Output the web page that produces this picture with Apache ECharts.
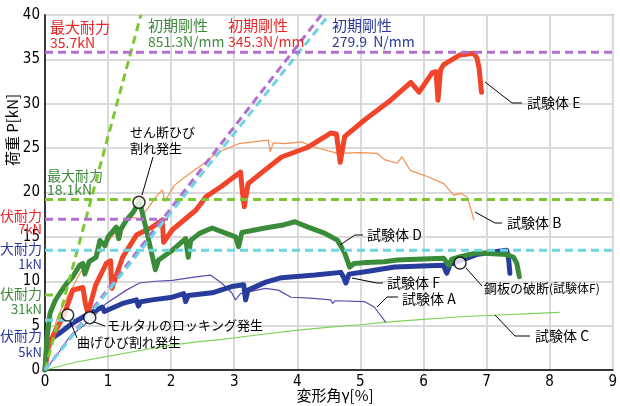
<!DOCTYPE html>
<html><head><meta charset="utf-8">
<script src="https://cdn.jsdelivr.net/npm/echarts@6/dist/echarts.min.js"></script>
<style>html,body{margin:0;padding:0;background:#fff}#c{width:620px;height:406px}</style>
</head><body><div id="c"></div>
<script>
// ---- axis ticks ----
const xTicks = [0,1,2,3,4,5,6,7,8,9];
const yTicks = [0,5,10,15,20,25,30,35,40];

// ---- 試験体 E ----
const E_x = [0,0.05,0.15,0.3,0.44,0.6,0.64,0.68,0.8,0.97,1.04,1.06,1.23,1.45,1.7,1.86,1.88,2.02,2.39,2.55,2.8,3.1,3.13,3.16,3.22,3.5,3.75,4.17,4.53,4.62,4.65,4.68,4.75,5.07,5.48,5.8,5.93,6.14,6.2,6.23,6.27,6.32,6.58,6.8,6.85,6.88,6.92];
const E_y = [0,2.5,4.2,6.2,9.0,9.3,7.5,6.4,9.5,12.0,12.3,9.2,12.7,15.2,16.1,16.9,14.4,15.8,18.0,19.5,20.7,22.3,20.0,18.4,21.0,22.6,24.0,25.1,26.7,26.6,25.0,23.4,26.3,28.2,30.4,32.4,31.3,33.5,33.6,30.4,33.8,34.4,35.5,35.7,35.1,34.1,31.3];
// ---- 試験体 B ----
const B_x = [0,0.1,0.2,0.35,0.45,0.6,0.7,0.92,1.0,1.23,1.4,1.5,1.65,1.76,1.86,1.9,1.95,2.05,2.23,2.6,2.7,3.07,3.3,3.54,3.57,3.62,3.8,4.06,4.28,4.64,5.0,5.27,5.38,5.58,5.66,5.79,6.06,6.32,6.48,6.6,6.69,6.74,6.8];
const B_y = [0,3.5,6.0,8.2,9.5,11.5,12.3,13.5,14.5,16.5,17.2,17.0,18.4,19.5,20.3,19.0,19.6,20.8,21.8,23.7,24.4,25.5,25.7,25.9,24.6,25.6,25.5,25.7,25.1,24.4,24.5,24.4,23.7,23.3,24.0,22.5,21.8,21.0,19.7,19.9,19.5,18.4,16.9];
// ---- 試験体 D ----
const D_x = [0,0.03,0.08,0.16,0.24,0.35,0.44,0.55,0.6,0.63,0.7,0.81,0.87,0.95,1.0,1.13,1.17,1.2,1.28,1.4,1.5,1.6,1.75,1.8,2.02,2.23,2.27,2.31,2.45,2.65,2.8,3.02,3.07,3.12,3.2,3.49,3.75,3.96,4.17,4.44,4.64,4.75,4.83,4.9,5.1,5.38,5.58,6.0,6.32,6.4,6.45,6.55,6.84,7.1,7.32,7.43,7.48,7.52];
const D_y = [0,3.5,6.4,7.8,8.7,9.8,10.5,11.8,12.0,10.8,12.2,12.7,14.6,14.0,15.0,16.1,14.8,15.8,16.8,17.8,19.0,16.0,11.3,12.4,13.5,14.8,12.7,14.6,15.4,16.0,15.6,15.0,13.9,15.5,15.6,16.0,16.3,16.7,16.1,15.4,14.6,13.2,11.6,12.0,12.1,12.2,12.4,12.5,12.6,11.8,12.5,12.7,13.2,13.1,13.0,12.7,12.0,10.5];
// ---- 試験体 F ----
const F_x = [0,0.03,0.1,0.24,0.44,0.71,0.91,0.94,0.97,1.23,1.45,1.48,1.52,1.7,2.02,2.2,2.23,2.27,2.65,2.96,3.15,3.18,3.22,3.5,3.75,4.28,4.69,4.73,4.77,4.82,5.1,5.54,6.32,6.35,6.37,6.42,6.84,7.1,7.32,7.35,7.37];
const F_y = [0,2.6,3.5,4.2,5.3,6.4,7.1,6.6,6.4,7.5,7.9,7.2,7.7,7.9,8.2,8.6,7.7,8.4,8.7,9.4,9.6,7.9,9.0,9.9,10.4,10.7,11.0,10.5,9.8,10.8,11.1,11.6,11.8,11.2,10.9,11.9,13.0,13.3,13.5,12.5,10.9];
// ---- 試験体 A ----
const A_x = [0,0.2,0.39,0.71,0.97,1.29,1.5,1.75,2.02,2.39,2.62,2.8,2.96,3.02,3.1,3.49,3.7,3.9,4.2,4.53,4.56,4.6,5.07,5.22,5.4];
const A_y = [0,1.8,3.7,5.6,7.5,9.0,9.8,10.0,10.1,10.5,10.7,9.8,8.7,7.9,8.6,9.2,9.0,8.2,8.1,7.9,7.5,7.8,7.7,7.1,5.4];
// ---- 試験体 C ----
const C_x = [0,0.5,0.97,1.5,2.0,2.44,2.75,3.2,4.01,4.48,5.0,5.4,6.0,6.58,7.2,7.7,8.15];
const C_y = [0,0.9,1.5,2.2,2.8,3.2,3.4,3.8,4.5,4.8,5.1,5.4,5.7,6.0,6.2,6.35,6.5];

// ---- reference dashed lines ----
const stiffGreen = [[0,0],[1.52,40]];
const stiffPurple = [[0,0],[4.38,40]];
const stiffCyan = [[0,0],[4.5,40]];
const maxE = [[0,35.8],[9,35.8]];
const maxD = [[0,19.2],[9,19.2]];
const yieldE = [[0,17.0],[1.95,17.0]];
const maxF = [[0,13.5],[9,13.5]];
const yieldD = [[0,8.45],[0.2,8.45]];
const yieldF = [[0,5.6],[0.45,5.6]];

// ---- event markers ----
const events = [[0.36,6.2],[0.71,5.9],[1.49,18.9],[6.58,12.06]];

const zip = (xs, ys) => xs.map((x,i)=>[x, ys[i]]);
const JP = '"Noto Sans CJK JP", sans-serif';
const NUM = '"Liberation Sans Narrow","DejaVu Sans Condensed","Liberation Sans",sans-serif';
const RED='#e8262a', GRN='#3d8b3d', BLU='#2b3a98';

function line(name, data, color, width, z){
  return {name, type:'line', data, showSymbol:false, symbol:'none', z,
    lineStyle:{color, width, cap:'round', join:'round'}, silent:true, animation:false};
}
function dash(data, color){
  return {type:'line', data, showSymbol:false, symbol:'none', z:5,
    lineStyle:{color, width:3, type:[8,5]}, silent:true, animation:false};
}
function txt(t, x, y, color, size, align){
  return {type:'text', z:100, style:{text:t, x, y, fill:color, font: size+'px '+JP,
    align: align||'left', textAlign: align||'left', verticalAlign:'middle', textVerticalAlign:'middle'}};
}
function pl(points){
  return {type:'polyline', z:90, shape:{points}, style:{stroke:'#000', lineWidth:1, fill:null}};
}

const chart = echarts.init(document.getElementById('c'), null, {renderer:'canvas'});
chart.setOption({
  animation:false,
  backgroundColor:'#fff',
  grid:{left:45, right:2, top:15, bottom:36, show:true, borderColor:'#000', borderWidth:1.5, backgroundColor:'transparent'},
  xAxis:{type:'value', min:0, max:9, interval:1,
    axisLine:{show:true, lineStyle:{color:'#000', width:1.5}}, axisTick:{show:false},
    axisLabel:{margin:5, fontSize:15, color:'#000', fontFamily:NUM, formatter:v=>xTicks.includes(v)?String(v):''},
    splitLine:{show:true, lineStyle:{color:'#dadada', width:2}}},
  yAxis:{type:'value', min:0, max:40, interval:5,
    axisLine:{show:true, lineStyle:{color:'#000', width:1.5}}, axisTick:{show:false},
    axisLabel:{margin:5, fontSize:15, color:'#000', fontFamily:NUM, formatter:v=>yTicks.includes(v)?String(v):''},
    splitLine:{show:true, lineStyle:{color:'#dadada', width:2}}},
  series:[
    line('試験体C', zip(C_x,C_y), '#7fd35a', 1.2, 2),
    line('試験体A', zip(A_x,A_y), '#5d4bb0', 1.2, 2),
    line('試験体B', zip(B_x,B_y), '#f5904f', 1.2, 2),
    line('試験体F', zip(F_x,F_y), '#283c9c', 5, 3),
    line('試験体E', zip(E_x,E_y), '#f0452a', 5, 3),
    line('試験体D', zip(D_x,D_y), '#3a8c3a', 5, 4),
    dash(stiffGreen, '#7cc832'),
    dash(stiffPurple, '#b36fd0'),
    dash(stiffCyan, '#6fd3e0'),
    dash(maxE, '#b36fd0'),
    dash(maxD, '#7cc832'),
    dash(yieldE, '#b36fd0'),
    dash(maxF, '#6fd3e0'),
    dash(yieldD, '#7cc832'),
    dash(yieldF, '#6fd3e0'),
    {type:'scatter', data:events, symbol:'circle', symbolSize:12, z:20, silent:true,
      itemStyle:{color:'#fff', borderColor:'#000', borderWidth:1.5}}
  ],
  graphic:[
    // axis titles
    {type:'text', z:100, x:12, y:130, rotation:Math.PI/2,
      style:{text:'荷重 P[kN]', fill:'#000', font:'15px '+JP, align:'center', textAlign:'center', verticalAlign:'middle', textVerticalAlign:'middle'}},
    txt('変形角γ[%]', 335, 395, '#000', 15, 'center'),
    // top annotations
    txt('最大耐力', 50, 27, RED, 15), txt('35.7kN', 50, 43, RED, 14),
    txt('初期剛性', 148, 25, GRN, 15), txt('851.3N/mm', 148, 42, GRN, 14),
    txt('初期剛性', 228, 25, RED, 15), txt('345.3N/mm', 228, 42, RED, 14),
    txt('初期剛性', 332, 25, BLU, 15), txt('279.9  N/mm', 332, 42, BLU, 14),
    txt('最大耐力', 47, 176, GRN, 14), txt('18.1kN', 47, 190, GRN, 14),
    // left clipped labels
    txt('伏耐力', 42, 216, RED, 14, 'right'), txt('7kN', 42, 229, RED, 13, 'right'),
    txt('大耐力', 42, 249, BLU, 14, 'right'), txt('1kN', 42, 264, BLU, 13, 'right'),
    txt('伏耐力', 42, 294, GRN, 14, 'right'), txt('31kN', 42, 309, GRN, 13, 'right'),
    txt('伏耐力', 42, 336, BLU, 14, 'right'), txt('5kN', 42, 352, BLU, 13, 'right'),
    // event annotations
    txt('せん断ひび', 130, 132, '#000', 13), txt('割れ発生', 130, 148, '#000', 13),
    pl([[153,157],[142,195]]),
    txt('曲げひび割れ発生', 77, 342, '#000', 13), pl([[70,321],[77,338]]),
    txt('モルタルのロッキング発生', 107, 325, '#000', 13), pl([[94,322],[105,326]]),
    txt('鋼板の破断', 484, 288, '#000', 13), txt('(試験体F)', 549, 288, '#000', 12),
    pl([[466,268],[482,286]]),
    // series labels
    txt('試験体 E', 527, 103, '#000', 14), pl([[485,82],[512,103],[522,103]]),
    txt('試験体 B', 507, 223, '#000', 14), pl([[475,212],[495,223],[502,223]]),
    txt('試験体 D', 367, 235, '#000', 14), pl([[340,245],[355,235],[363,235]]),
    txt('試験体 F', 387, 283, '#000', 14), pl([[352,278],[377,283],[383,283]]),
    txt('試験体 A', 402, 299, '#000', 14), pl([[377,307],[387,297],[398,297]]),
    txt('試験体 C', 535, 336, '#000', 14), pl([[495,315],[515,336],[530,336]])
  ]
});
</script></body></html>
